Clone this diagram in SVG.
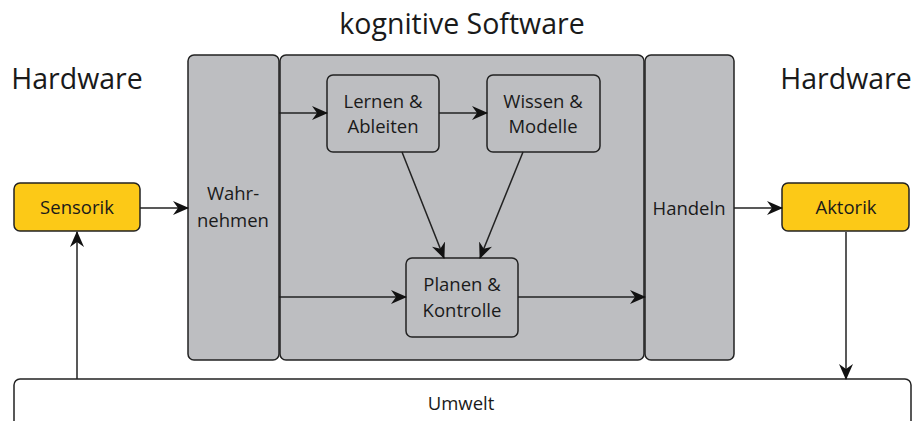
<svg xmlns="http://www.w3.org/2000/svg" width="915" height="421" viewBox="0 0 915 421">
<defs>
<style>
.t{font-family:"Open Sans","Noto Sans",sans-serif;fill:#1a1a1a;text-anchor:middle}
.n{font-size:18.5px}
.h{font-size:28.5px}
.g{fill:#bdbec1;stroke:#222;stroke-width:1.5}
.y{fill:#fcc917;stroke:#222;stroke-width:1.5}
.w{fill:#fff;stroke:#222;stroke-width:1.5}
.c{stroke:#222;stroke-width:1.5;fill:none;marker-end:url(#ah)}
</style>
<marker id="ah" markerWidth="16" markerHeight="14" refX="15" refY="7" orient="auto" markerUnits="userSpaceOnUse">
<path d="M0,0 L16,7 L0,14 L5,7 Z" fill="#111"/>
</marker>
</defs>
<rect width="915" height="421" fill="#fff"/>
<text class="t h" x="462" y="34">kognitive Software</text>
<text class="t h" x="77" y="89">Hardware</text>
<text class="t h" x="846" y="89">Hardware</text>

<g id="umwelt"><rect class="w" x="14" y="379" width="897" height="60" rx="6"/><text class="t n" x="461" y="410">Umwelt</text></g>
<g id="wahrnehmen"><rect class="g" x="188" y="55" width="91" height="305" rx="6"/><text class="t n" x="233" y="200">Wahr-</text><text class="t n" x="233" y="227">nehmen</text></g>
<g id="software"><rect class="g" x="280" y="55" width="364" height="305" rx="6"/></g>
<g id="handeln"><rect class="g" x="645" y="55" width="89" height="305" rx="6"/><text class="t n" x="689" y="215">Handeln</text></g>
<g id="sensorik"><rect class="y" x="14" y="183" width="126" height="48" rx="6"/><text class="t n" x="77" y="214">Sensorik</text></g>
<g id="aktorik"><rect class="y" x="782" y="183" width="127" height="48" rx="6"/><text class="t n" x="846" y="214">Aktorik</text></g>
<g id="lernen"><rect class="g" x="327" y="75" width="112" height="77" rx="6"/><text class="t n" x="383" y="108">Lernen &amp;</text><text class="t n" x="383" y="133">Ableiten</text></g>
<g id="wissen"><rect class="g" x="487" y="75" width="113" height="77" rx="6"/><text class="t n" x="543" y="108">Wissen &amp;</text><text class="t n" x="543" y="133">Modelle</text></g>
<g id="planen"><rect class="g" x="406" y="258" width="112" height="79" rx="6"/><text class="t n" x="462" y="291">Planen &amp;</text><text class="t n" x="462" y="317">Kontrolle</text></g>

<g id="connectors">
<path class="c" d="M140,208 L188,208"/>
<path class="c" d="M734,208 L782,208"/>
<path class="c" d="M77,379 L77,232"/>
<path class="c" d="M846,232 L846,379"/>
<path class="c" d="M279,113 L327,113"/>
<path class="c" d="M439,113 L487,113"/>
<path class="c" d="M402,152 L444,258"/>
<path class="c" d="M523,152 L480,258"/>
<path class="c" d="M279,297 L406,297"/>
<path class="c" d="M518,297 L645,297"/>
</g>
</svg>
